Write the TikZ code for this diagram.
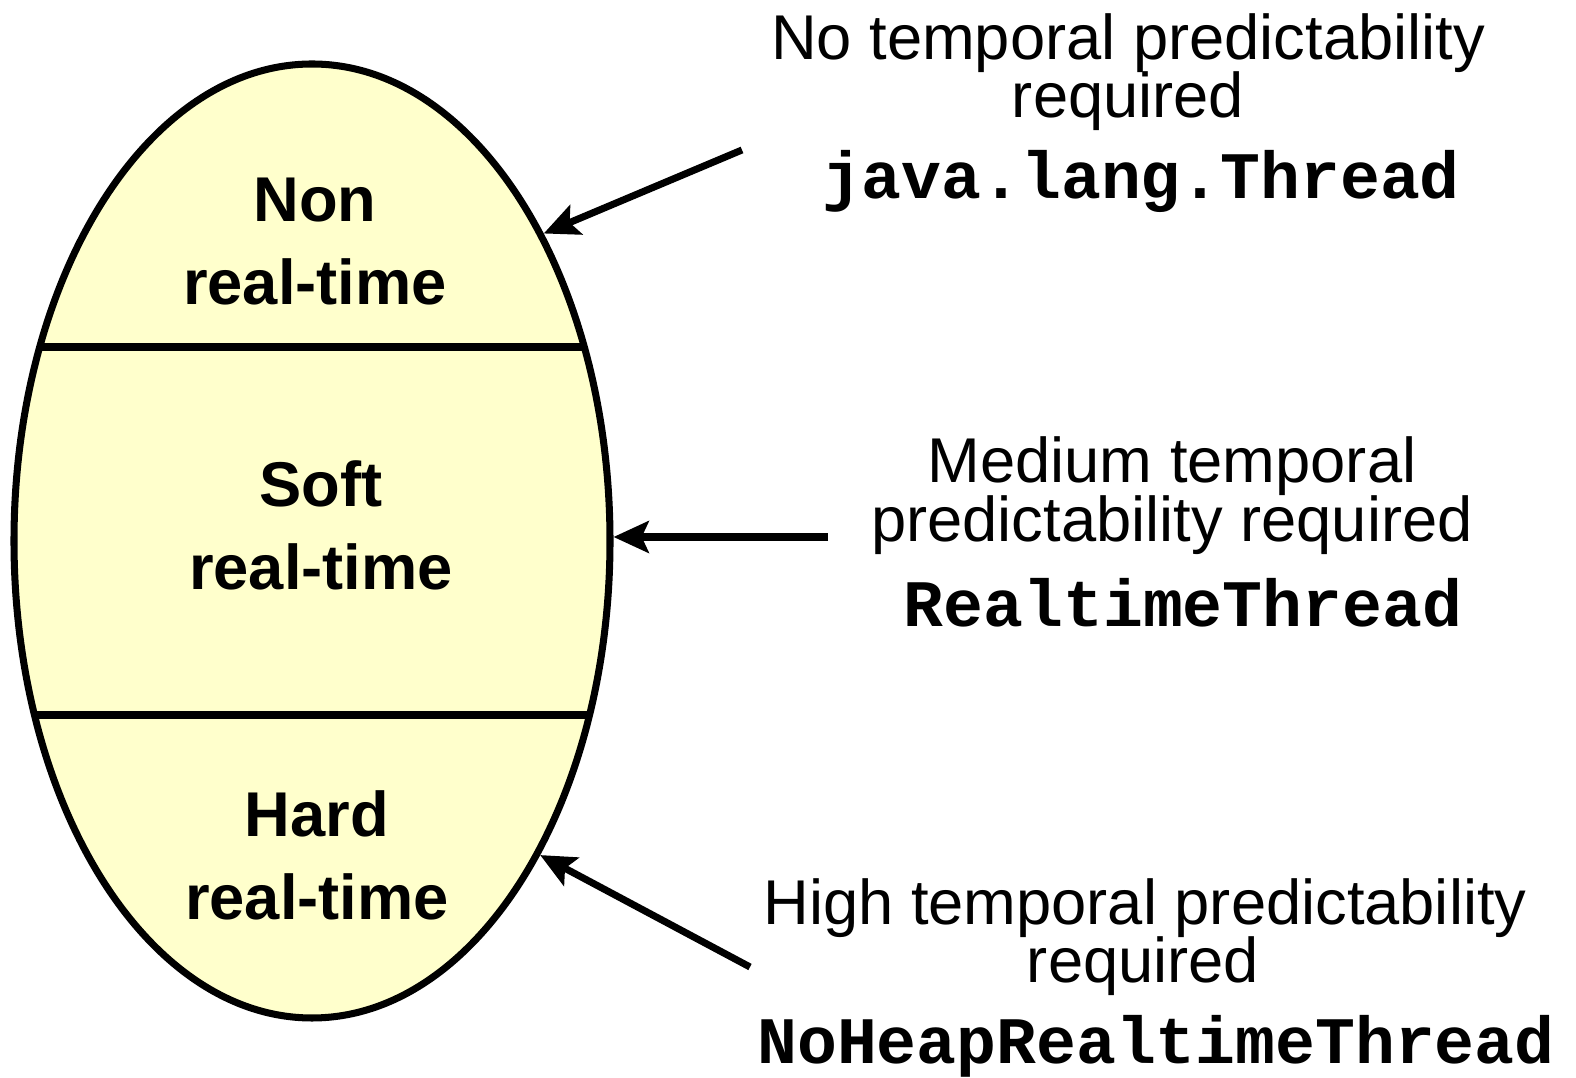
\documentclass[tikz,border=0pt]{standalone}
\usepackage{fontspec}
\setmainfont{Liberation Sans}
\setmonofont{Liberation Mono}
\usetikzlibrary{shapes.geometric,arrows.meta}

\definecolor{paleyellow}{RGB}{255,255,204}

\tikzset{
    level/.style={font=\fontsize{18}{18}\selectfont\bfseries, anchor=base, inner sep=0pt},
    note/.style={font=\fontsize{18}{18}\selectfont, anchor=base, inner sep=0pt},
    cls/.style={font=\fontsize{18.9}{18.9}\selectfont\ttfamily\bfseries, anchor=base, inner sep=0pt},
    pointer/.style={-{Stealth[length=10pt,width=9pt,inset=2pt]}, line width=2pt},
}

\begin{document}
\begin{tikzpicture}
    \useasboundingbox (0,0) rectangle (15.76,-10.78);

    % Ellipse
    \node[ellipse, draw, line width=2pt, fill=paleyellow, minimum width=5.96cm,
          minimum height=9.54cm, inner sep=0pt] (rtspec) at (3.12,-5.41) {};

    % Dividers
    \begin{scope}
        \clip (3.12,-5.41) ellipse [x radius=2.98cm, y radius=4.77cm];
        \draw[line width=2pt] (0,-3.47) -- (7,-3.47);
        \draw[line width=2pt] (0,-7.15) -- (7,-7.15);
    \end{scope}

    % Levels
    \node[level] (non)    at (3.15,-2.22) {Non};
    \node[level] (nonrt)  at (3.15,-3.05) {real-time};
    \node[level] (soft)   at (3.21,-5.07) {Soft};
    \node[level] (softrt) at (3.21,-5.90) {real-time};
    \node[level] (hard)   at (3.17,-8.37) {Hard};
    \node[level] (hardrt) at (3.17,-9.20) {real-time};

    % Notes
    \node[note] (nopred)  at (11.28,-0.60) {No temporal predictability};
    \node[note] (noreq)   at (11.28,-1.18) {required};
    \node[cls]  (jlthread) at (11.41,-1.99) {java.lang.Thread};

    \node[note] (medpred) at (11.72,-4.83) {Medium temporal};
    \node[note] (medreq)  at (11.72,-5.42) {predictability required};
    \node[cls]  (rtthread) at (11.83,-6.27) {RealtimeThread};

    \node[note] (highpred) at (11.45,-9.25) {High temporal predictability};
    \node[note] (highreq)  at (11.43,-9.83) {required};
    \node[cls]  (nhrtthread) at (11.56,-10.64) {NoHeapRealtimeThread};

    % Arrows
    \coordinate (tailnon) at (7.42,-1.50);
    \coordinate (tailsoft) at (8.28,-5.37);
    \coordinate (tailhard) at (7.50,-9.67);
    \draw[pointer] (tailnon) -- (rtspec.53.6);
    \draw[pointer] (tailsoft) -- (tailsoft -| rtspec.east);
    \draw[pointer] (tailhard) -- (rtspec.-54.9);
\end{tikzpicture}
\end{document}
